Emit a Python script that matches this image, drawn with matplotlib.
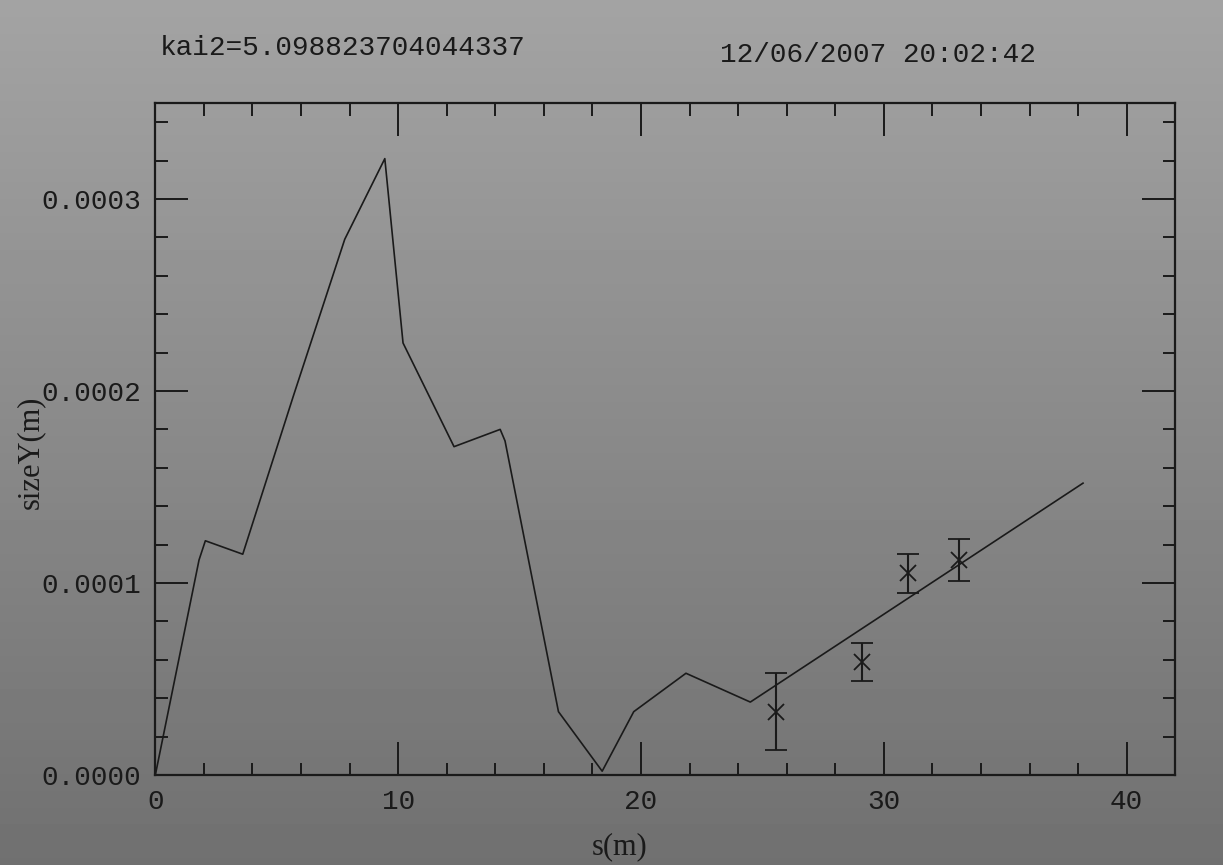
import numpy as np
from matplotlib import pyplot as plt
from matplotlib.ticker import MultipleLocator, FormatStrFormatter

# model curve sizeY vs s
s_line = [0.0, 1.8, 2.06, 3.6, 5.7, 7.8, 9.45, 10.2, 12.3, 14.2, 14.4, 16.6, 18.4, 19.7, 21.85, 24.5, 38.2]
size_line = [0.0, 1.12e-4, 1.22e-4, 1.15e-4, 1.98e-4, 2.79e-4, 3.21e-4, 2.25e-4, 1.71e-4, 1.80e-4, 1.74e-4,
             0.33e-4, 0.02e-4, 0.33e-4, 0.53e-4, 0.38e-4, 1.52e-4]

# measured points with errors
s_meas = [25.55, 29.1, 31.0, 33.1]
size_meas = [0.33e-4, 0.59e-4, 1.05e-4, 1.12e-4]
size_err = [0.20e-4, 0.10e-4, 0.10e-4, 0.11e-4]

header_left = 'kai2=5.098823704044337'
header_right = '12/06/2007 20:02:42'

mono = 'Liberation Mono'
serif = 'Liberation Serif'

fig = plt.figure(figsize=(12.23, 8.65), dpi=100)

# grey photo-like background
bg = fig.add_axes([0, 0, 1, 1], zorder=-10)
grad = np.linspace(0.64, 0.44, 256).reshape(-1, 1)
bg.imshow(grad, aspect='auto', cmap='gray', vmin=0, vmax=1, extent=[0, 1, 0, 1])
bg.axis('off')

ax = fig.add_axes([0.127, 0.104, 0.834, 0.777])
ax.patch.set_alpha(0)

ax.plot(s_line, size_line, color='#1a1a1a', lw=1.2)
ax.errorbar(s_meas, size_meas, yerr=size_err, fmt='x', color='#1a1a1a', ms=12, mew=1.3,
            elinewidth=1.5, capsize=8, capthick=1.5)

ax.set_xlim(0, 42)
ax.set_ylim(0, 3.5e-4)

ax.xaxis.set_major_locator(MultipleLocator(10))
ax.xaxis.set_minor_locator(MultipleLocator(2))
ax.yaxis.set_major_locator(MultipleLocator(1e-4))
ax.yaxis.set_minor_locator(MultipleLocator(2e-5))
ax.yaxis.set_major_formatter(FormatStrFormatter('%.4f'))

ax.tick_params(which='both', direction='in', top=True, right=True, color='#1a1a1a', width=1.4)
ax.tick_params(which='major', length=24)
ax.tick_params(which='minor', length=9)
ax.tick_params(axis='y', pad=10, labelsize=20)
ax.tick_params(axis='x', pad=10, labelsize=20)
for lab in ax.get_xticklabels() + ax.get_yticklabels():
    lab.set_family(mono)
    lab.set_color('#1a1a1a')

for sp in ax.spines.values():
    sp.set_linewidth(1.6)
    sp.set_color('#1a1a1a')

ax.set_xlabel('s(m)', fontsize=22, family=serif, color='#1a1a1a')
ax.xaxis.set_label_coords(0.455, -0.085)
ax.set_ylabel('sizeY(m)', fontsize=22, family=serif, color='#1a1a1a')
ax.yaxis.set_label_coords(-0.108, 0.48)

fig.text(160 / 1223, 1 - 48 / 865, header_left, fontsize=20, family=mono, color='#1a1a1a',
         ha='left', va='center')
fig.text(720 / 1223, 1 - 55 / 865, header_right, fontsize=20, family=mono, color='#1a1a1a',
         ha='left', va='center')

plt.savefig('out.png', dpi=100)
